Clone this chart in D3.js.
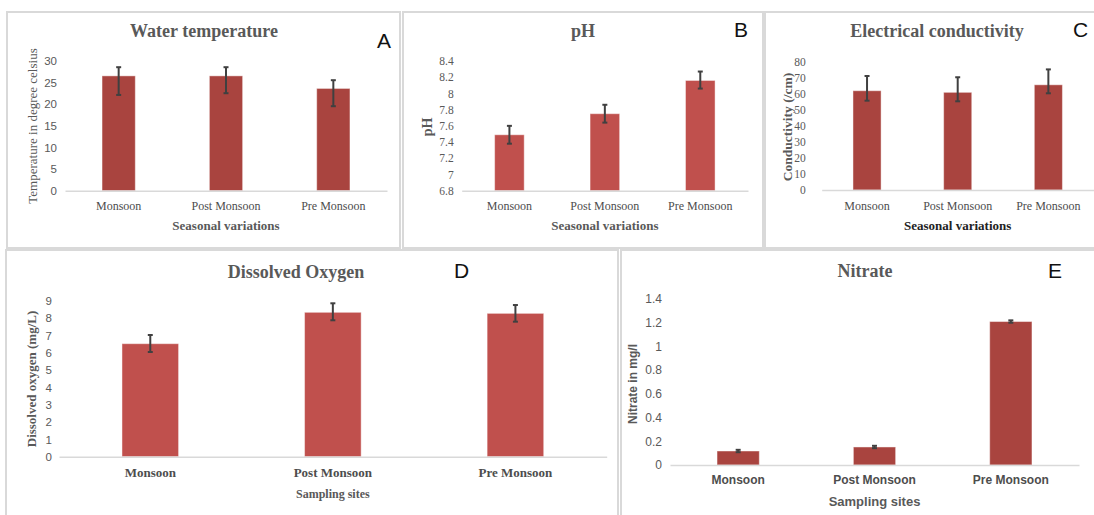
<!DOCTYPE html>
<html>
<head>
<meta charset="utf-8">
<script src="https://cdn.jsdelivr.net/npm/d3@7"></script>
<style>
  body { margin: 0; background: #fff; }
</style>
</head>
<body>
<script>
var seasons = ["Monsoon", "Post Monsoon", "Pre Monsoon"];

// A - water temperature
var tempMean = [26.5, 26.5, 23.6],
    tempErrUp = [2.0, 2.0, 1.9],
    tempErrDown = [4.4, 4.0, 4.1],
    tempTicks = [0, 5, 10, 15, 20, 25, 30];

// B - pH
var phMean = [7.49, 7.75, 8.16],
    phErrUp = [0.11, 0.11, 0.11],
    phErrDown = [0.11, 0.11, 0.1],
    phTicks = [6.8, 7, 7.2, 7.4, 7.6, 7.8, 8, 8.2, 8.4];

// C - conductivity
var ecMean = [61.9, 60.9, 65.6],
    ecErrUp = [9.2, 9.4, 9.6],
    ecErrDown = [6.2, 5.6, 5.3],
    ecTicks = [0, 10, 20, 30, 40, 50, 60, 70, 80];

// D - dissolved oxygen
var doMean = [6.52, 8.33, 8.27],
    doErrUp = [0.5, 0.52, 0.48],
    doErrDown = [0.48, 0.46, 0.48],
    doTicks = [0, 1, 2, 3, 4, 5, 6, 7, 8, 9];

// E - nitrate
var no3Mean = [0.118, 0.152, 1.21],
    no3ErrUp = [0.01, 0.01, 0.01],
    no3ErrDown = [0.01, 0.01, 0.01],
    no3Ticks = [0, 0.2, 0.4, 0.6, 0.8, 1, 1.2, 1.4];

var serif = "'Liberation Serif', 'Times New Roman', serif",
    sans = "'Liberation Sans', Arial, sans-serif",
    grey = "#595959",
    dark = "#a9443f",
    light = "#c0504d";

var svg = d3.select("body").append("svg")
    .attr("width", 1094)
    .attr("height", 515);

var panels = [
  {frame: [7, 12, 393, 236], letter: "A", letterAt: [377, 48], title: "Water temperature", titleAt: [204, 37],
   xr: [65, 387], yr: [190.7, 60.7], ticks: tempTicks, tickFont: sans, tickSize: 11.5, tickGap: 8,
   yLabel: "Temperature in degree celsius", yLabelAt: [37, 126], yLabelWeight: "normal", yLabelSize: 13, yLabelFont: serif,
   catY: 210, catFont: serif, catSize: 12, catWeight: "normal",
   xTitle: "Seasonal variations", xTitleY: 230, xTitleFont: serif, xTitleColor: grey, xTitleSize: 13,
   mean: tempMean, up: tempErrUp, down: tempErrDown, color: dark},
  {frame: [403, 12, 360, 236], letter: "B", letterAt: [734, 37], title: "pH", titleAt: [583, 37],
   xr: [461.7, 748], yr: [190.7, 61], ticks: phTicks, tickFont: serif, tickSize: 11.5, tickGap: 8,
   yLabel: "pH", yLabelAt: [432, 127], yLabelWeight: "bold", yLabelSize: 14, yLabelFont: serif,
   catY: 210, catFont: serif, catSize: 12, catWeight: "normal",
   xTitle: "Seasonal variations", xTitleY: 230, xTitleFont: serif, xTitleColor: grey, xTitleSize: 13,
   mean: phMean, up: phErrUp, down: phErrDown, color: light},
  {frame: [765, 12, 340, 236], letter: "C", letterAt: [1073, 37], title: "Electrical conductivity", titleAt: [937, 37],
   xr: [821.7, 1093.7], yr: [190, 61.7], ticks: ecTicks, tickFont: serif, tickSize: 11.5, tickGap: 16,
   yLabel: "Conductivity (/cm)", yLabelAt: [792, 127], yLabelWeight: "bold", yLabelSize: 13.5, yLabelFont: serif,
   catY: 210, catFont: serif, catSize: 12, catWeight: "normal",
   xTitle: "Seasonal variations", xTitleY: 230, xTitleFont: serif, xTitleColor: "#222", xTitleSize: 13,
   mean: ecMean, up: ecErrUp, down: ecErrDown, color: dark},
  {frame: [6, 250, 612, 280], letter: "D", letterAt: [454, 278], title: "Dissolved Oxygen", titleAt: [296, 278],
   xr: [59, 606.7], yr: [456.7, 300.7], ticks: doTicks, tickFont: sans, tickSize: 11.5, tickGap: 7,
   yLabel: "Dissolved oxygen  (mg/L)", yLabelAt: [36, 379], yLabelWeight: "bold", yLabelSize: 13, yLabelFont: serif,
   catY: 477, catFont: serif, catSize: 13, catWeight: "bold",
   xTitle: "Sampling sites", xTitleY: 498, xTitleFont: serif, xTitleColor: grey, xTitleSize: 12,
   mean: doMean, up: doErrUp, down: doErrDown, color: light},
  {frame: [621, 250, 490, 280], letter: "E", letterAt: [1048, 278], title: "Nitrate", titleAt: [865, 277],
   xr: [670, 1079], yr: [465, 299], ticks: no3Ticks, tickFont: sans, tickSize: 12, tickGap: 8,
   yLabel: "Nitrate in mg/l", yLabelAt: [637, 384], yLabelWeight: "bold", yLabelSize: 12, yLabelFont: sans,
   catY: 484, catFont: sans, catSize: 12, catWeight: "bold",
   xTitle: "Sampling sites", xTitleY: 506, xTitleFont: sans, xTitleColor: grey, xTitleSize: 13,
   mean: no3Mean, up: no3ErrUp, down: no3ErrDown, color: dark}
];

panels.forEach(drawPanel);

function drawPanel(p) {
  var g = svg.append("g");

  g.append("rect")
      .attr("x", p.frame[0])
      .attr("y", p.frame[1])
      .attr("width", p.frame[2])
      .attr("height", p.frame[3])
      .attr("fill", "none")
      .attr("stroke", "#d9d9d9")
      .attr("stroke-width", 2);

  var x = d3.scaleBand()
      .domain(seasons)
      .range(p.xr)
      .paddingInner(0.69)
      .paddingOuter(0.345);

  var y = d3.scaleLinear()
      .domain([p.ticks[0], p.ticks[p.ticks.length - 1]])
      .range(p.yr);

  var yAxis = d3.axisLeft(y)
      .tickValues(p.ticks)
      .tickSize(0)
      .tickPadding(p.tickGap)
      .tickFormat(function(d) { return String(+d.toFixed(1)); });

  g.append("g")
      .attr("transform", "translate(" + p.xr[0] + ",0)")
      .call(yAxis)
      .call(function(a) {
        a.select(".domain").remove();
        a.selectAll(".tick text")
            .attr("fill", grey)
            .attr("font-family", p.tickFont)
            .attr("font-size", p.tickSize);
      });

  // bars
  g.selectAll(".bar")
      .data(p.mean)
    .enter().append("rect")
      .attr("x", function(d, i) { return x(seasons[i]); })
      .attr("y", function(d) { return y(d); })
      .attr("width", x.bandwidth())
      .attr("height", function(d) { return y(p.ticks[0]) - y(d); })
      .attr("fill", p.color)
      .attr("stroke", "rgba(255,255,255,0.45)")
      .attr("stroke-width", 1);

  var xAxis = d3.axisBottom(x)
      .tickSize(0)
      .tickSizeOuter(0);

  g.append("g")
      .attr("transform", "translate(0," + p.yr[0] + ")")
      .call(xAxis)
      .call(function(a) {
        a.select(".domain").attr("stroke", "#d9d9d9").attr("stroke-width", 1.5);
        a.selectAll(".tick text")
            .attr("y", p.catY - p.yr[0])
            .attr("dy", null)
            .attr("fill", "#4d4d4d")
            .attr("font-family", p.catFont)
            .attr("font-weight", p.catWeight)
            .attr("font-size", p.catSize);
      });

  // error bars
  var eb = g.selectAll(".err")
      .data(p.mean)
    .enter().append("g")
      .attr("stroke", "#404040")
      .attr("stroke-width", 2);

  eb.append("line")
      .attr("x1", function(d, i) { return x(seasons[i]) + x.bandwidth() / 2; })
      .attr("x2", function(d, i) { return x(seasons[i]) + x.bandwidth() / 2; })
      .attr("y1", function(d, i) { return y(d + p.up[i]); })
      .attr("y2", function(d, i) { return y(d - p.down[i]); });

  eb.append("line")
      .attr("x1", function(d, i) { return x(seasons[i]) + x.bandwidth() / 2 - 2.5; })
      .attr("x2", function(d, i) { return x(seasons[i]) + x.bandwidth() / 2 + 2.5; })
      .attr("y1", function(d, i) { return y(d + p.up[i]); })
      .attr("y2", function(d, i) { return y(d + p.up[i]); });

  eb.append("line")
      .attr("x1", function(d, i) { return x(seasons[i]) + x.bandwidth() / 2 - 2.5; })
      .attr("x2", function(d, i) { return x(seasons[i]) + x.bandwidth() / 2 + 2.5; })
      .attr("y1", function(d, i) { return y(d - p.down[i]); })
      .attr("y2", function(d, i) { return y(d - p.down[i]); });

  g.append("text")
      .attr("x", p.titleAt[0])
      .attr("y", p.titleAt[1])
      .attr("text-anchor", "middle")
      .attr("font-family", serif)
      .attr("font-weight", "bold")
      .attr("font-size", 18)
      .attr("fill", grey)
      .text(p.title);

  g.append("text")
      .attr("x", p.letterAt[0])
      .attr("y", p.letterAt[1])
      .attr("font-family", sans)
      .attr("font-size", 21)
      .attr("fill", "#111")
      .text(p.letter);

  g.append("text")
      .attr("transform", "translate(" + p.yLabelAt[0] + "," + p.yLabelAt[1] + ") rotate(-90)")
      .attr("text-anchor", "middle")
      .attr("font-family", p.yLabelFont)
      .attr("font-weight", p.yLabelWeight)
      .attr("font-size", p.yLabelSize)
      .attr("fill", grey)
      .text(p.yLabel);

  g.append("text")
      .attr("x", (p.xr[0] + p.xr[1]) / 2)
      .attr("y", p.xTitleY)
      .attr("text-anchor", "middle")
      .attr("font-family", p.xTitleFont)
      .attr("font-weight", "bold")
      .attr("font-size", p.xTitleSize)
      .attr("fill", p.xTitleColor)
      .text(p.xTitle);
}
</script>
</body>
</html>
